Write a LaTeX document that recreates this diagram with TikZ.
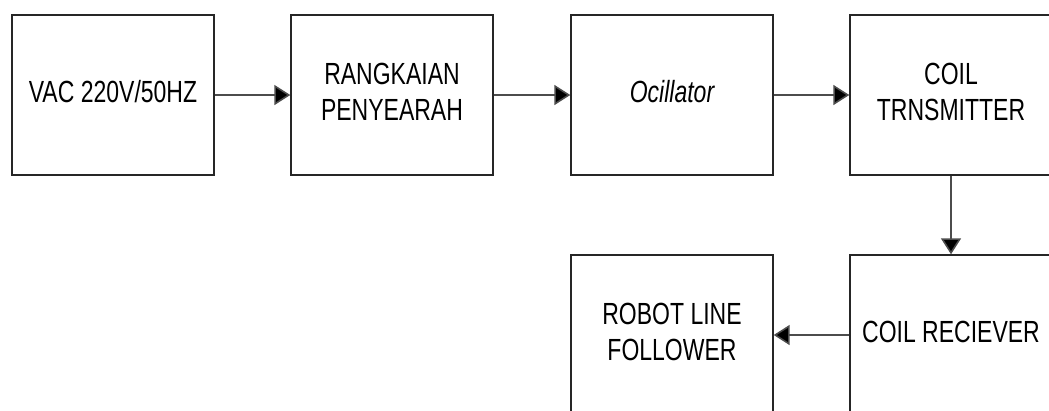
\documentclass[tikz,border=0pt]{standalone}
\usepackage{fontspec}
\setmainfont{Liberation Sans}
\usepackage{graphicx}
\usetikzlibrary{arrows.meta}
\newcommand{\bt}[1]{\scalebox{1}[1.33]{\begin{tabular}{@{}c@{}}#1\end{tabular}}}
\begin{document}
\begin{tikzpicture}[x=1pt,y=-1pt,
  blk/.style={draw=black!85, line width=1.4pt, rectangle, minimum width=202pt, minimum height=160pt, inner sep=0pt, font=\fontsize{23}{27}\selectfont},
  arr/.style={draw=black!70, line width=1.6pt, -{Triangle[length=16pt,width=20pt,fill=black]}}]
\useasboundingbox (0,0) rectangle (1049,410);
\fill[white] (0,0) rectangle (1049,410);
\node[blk] (b1) at (113,95) {\bt{VAC 220V/50HZ}};
\node[blk] (b2) at (392,95) {\bt{RANGKAIAN\\PENYEARAH}};
\node[blk] (b3) at (672,95) {\bt{\itshape Ocillator}};
\node[blk] (b4) at (951,95) {\bt{COIL\\TRNSMITTER}};
\node[blk] (b6) at (951,335) {\bt{COIL RECIEVER}};
\node[blk] (b5) at (672,335) {\bt{ROBOT LINE\\FOLLOWER}};
\draw[arr] (b1.east) -- (b2.west);
\draw[arr] (b2.east) -- (b3.west);
\draw[arr] (b3.east) -- (b4.west);
\draw[arr] (b4.south) -- (b6.north);
\draw[arr] (b6.west) -- (b5.east);
\end{tikzpicture}
\end{document}
